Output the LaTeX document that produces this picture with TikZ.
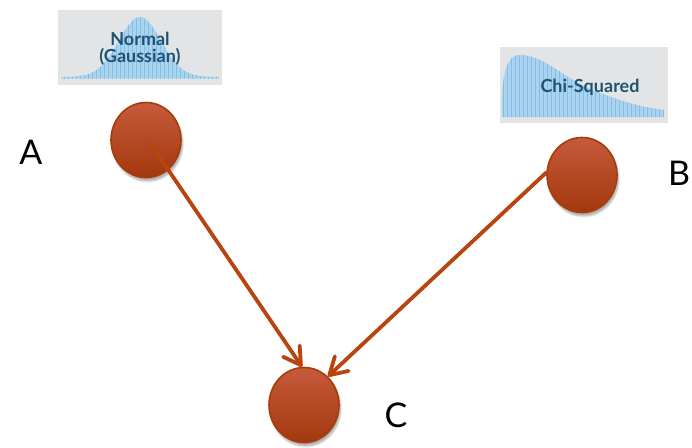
\documentclass[tikz,border=0pt]{standalone}
\usepackage{fontspec}
\setmainfont{Lato}
\usetikzlibrary{shapes.geometric,arrows.meta,shadows.blur}

\definecolor{balltop}{HTML}{C65A3C}
\definecolor{ballbot}{HTML}{A4380C}
\definecolor{ballrim}{HTML}{A63B0B}
\definecolor{arrowc}{HTML}{B8440F}
\definecolor{panelbg}{HTML}{E3E4E5}
\definecolor{curvefill}{HTML}{A9D3EE}
\definecolor{curvestripe}{HTML}{85BEE3}
\definecolor{captionc}{HTML}{1F5273}

\tikzset{
  ball/.style={ellipse, inner sep=0pt, minimum width=70pt, minimum height=75pt,
    top color=balltop, bottom color=ballbot, draw=ballrim, line width=1.6pt,
    blur shadow={shadow xshift=1.5pt, shadow yshift=-3.5pt, shadow blur steps=6, shadow opacity=35}},
  letter/.style={font=\fontsize{34}{36}\selectfont, text=black, inner sep=0pt},
  link/.style={draw=arrowc, line width=3.8pt, line cap=round,
    -{Straight Barb[length=17pt, width=20pt, line width=3.8pt, round]}},
  panel/.style={fill=panelbg, draw=none},
  caption/.style={font=\bfseries\fontsize{18}{17}\selectfont, text=captionc, inner sep=0pt, align=center},
}

\begin{document}
\begin{tikzpicture}[x=1pt, y=-1pt]
\useasboundingbox (0,0) rectangle (692,447);

% ---- Normal (Gaussian) panel ----
\fill[panel] (58,10) rectangle (222,85);
\begin{scope}
  \path[clip] (61,78.5) -- plot[domain=61:219, samples=120, smooth]
      (\x, {77 - 60*exp(-((\x-140)/21)^2/2)}) -- (219,78.5) -- cycle;
  \fill[curvefill] (58,10) rectangle (222,85);
  \foreach \k in {60,64,...,220} \draw[curvestripe, line width=0.8pt] (\k,10) -- (\k,85);
\end{scope}
\node[caption] (normtxt) at (140,49) {Normal\\(Gaussian)};

% ---- Chi-Squared panel ----
\fill[panel] (500,47) rectangle (668,123);
\begin{scope}
  \path[clip] (502,117) -- (502,95) .. controls (504,62) and (511,55) .. (520,55)
     .. controls (545,55) and (565,80) .. (595,91)
     .. controls (620,101) and (640,107) .. (664,110) -- (664,117) -- cycle;
  \fill[curvefill] (500,47) rectangle (668,123);
  \foreach \k in {503,507,...,667} \draw[curvestripe, line width=0.8pt] (\k,47) -- (\k,123);
\end{scope}
\node[caption] (chitxt) at (590,87) {Chi-Squared};

% ---- variables ----
\node[ball] (A) at (146,140) {};
\node[ball] (B) at (582,175) {};
\node[ball] (C) at (304,405) {};

\node[letter] (la) at (31,152) {A};
\node[letter] (lb) at (679,173) {B};
\node[letter] (lc) at (396,415) {C};

% ---- dependencies ----
\draw[link] ([shift={(4,3)}]A.center) -- (C.93);
\draw[link] (B.176) -- (C.50);
\end{tikzpicture}
\end{document}
